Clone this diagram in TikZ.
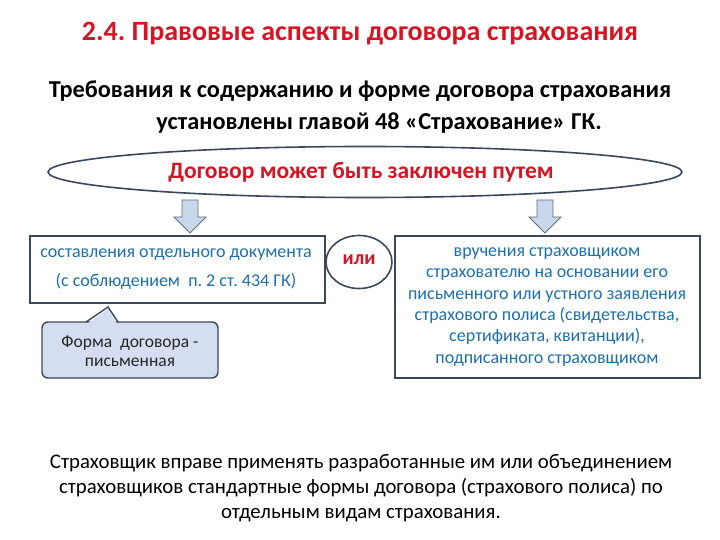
\documentclass[tikz,border=0pt]{standalone}
\usepackage{fontspec}
\setmainfont{Carlito}
\usetikzlibrary{shapes.geometric,calc}
\definecolor{tred}{RGB}{215,20,35}
\definecolor{tblue}{RGB}{30,112,172}
\definecolor{bord}{RGB}{60,72,90}
\definecolor{afill}{RGB}{200,215,235}
\definecolor{cfill}{RGB}{212,222,240}
\tikzset{
  boxst/.style={draw=bord,line width=1.6pt,fill=white,inner sep=0pt},
  bluetxt/.style={text=tblue,align=center},
  blockarrow/.style={draw=bord!80,line width=0.9pt,fill=afill},
  callst/.style={draw=bord,line width=1.4pt},
}
\frenchspacing
\begin{document}
\begin{tikzpicture}[x=1pt,y=-1pt]
\useasboundingbox (0,0) rectangle (720,540);
\fill[white] (0,0) rectangle (720,540);
% title
\node (title) at (360,34) {\fontsize{28}{30}\selectfont\bfseries\color{tred}2.4. Правовые аспекты договора страхования};
\node (sub1) at (360,91) {\fontsize{24.3}{28}\selectfont\bfseries Требования к содержанию и форме договора страхования};
\node (sub2) at (379,123) {\fontsize{24.3}{28}\selectfont\bfseries установлены главой 48 «Страхование» ГК.};
% ellipse
\node[ellipse,draw=bord,line width=1.6pt,fill=white,minimum width=634pt,minimum height=51pt,inner sep=0pt] (ell) at (365,172) {};
\node (elltxt) at (361,172) {\fontsize{23.5}{26}\selectfont\bfseries\color{tred}Договор может быть заключен путем};
% block arrows
\foreach \cx/\nm in {190/al,545/ar}{
  \coordinate (\nm) at (\cx,200);
  \draw[blockarrow] ($(\nm)+(-8,0)$) -- ($(\nm)+(8,0)$) -- ($(\nm)+(8,17)$) -- ($(\nm)+(16,17)$) -- ($(\nm)+(0,33)$) -- ($(\nm)+(-16,17)$) -- ($(\nm)+(-8,17)$) -- cycle;
}
% left box
\draw[boxst] (30,236) rectangle (325,303);
\node[bluetxt,font=\fontsize{18}{29}\selectfont] (ltxt) at (176,269) {составления отдельного документа\\(с соблюдением\ \ п. 2 ст. 434 ГК)};
% or circle
\node[ellipse,draw=bord,line width=1.6pt,fill=white,minimum width=66pt,minimum height=53pt,inner sep=0pt] (ili) at (359,262) {};
\node at (359,260) {\fontsize{20}{22}\selectfont\bfseries\color{tred}или};
% right box
\draw[boxst] (395,236) rectangle (700,378);
\node[bluetxt,font=\fontsize{18}{21.3}\selectfont] (rtxt) at (547,307) {вручения страховщиком\\страхователю на основании его\\письменного или устного заявления\\страхового полиса (свидетельства,\\сертификата, квитанции),\\подписанного страховщиком};
% callout
\draw[callst,fill=cfill,rounded corners=6pt] (42,322) rectangle (218,378);
\fill[cfill] (87.5,323.6) -- (108,309) -- (116.8,323.6) -- cycle;
\draw[callst,line join=miter] (86,322) -- (108,307) -- (118,322);
\node[align=center,font=\fontsize{17.5}{18.5}\selectfont,text=black!85] (call) at (130,351) {Форма\ \ договора -\\письменная};
% bottom text
\node[align=center,font=\fontsize{20.8}{25}\selectfont] (bottom) at (361,488) {Страховщик вправе применять разработанные им или объединением\\страховщиков стандартные формы договора (страхового полиса) по\\отдельным видам страхования.};
\end{tikzpicture}
\end{document}
